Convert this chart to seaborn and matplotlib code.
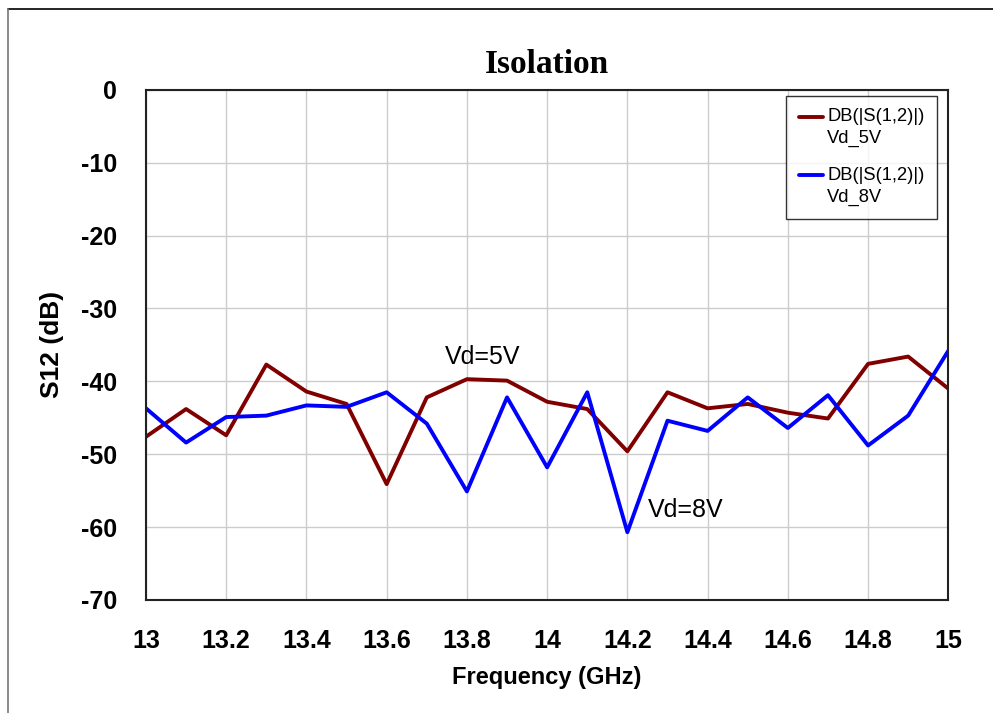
import matplotlib as mpl
import matplotlib.pyplot as plt
import numpy as np
import pandas as pd
import seaborn as sns
from matplotlib.legend_handler import HandlerLine2D
from matplotlib.lines import Line2D

# Data
freq_ghz = [13.0, 13.1, 13.2, 13.3, 13.4, 13.5, 13.6, 13.7, 13.8, 13.9, 14.0,
            14.1, 14.2, 14.3, 14.4, 14.5, 14.6, 14.7, 14.8, 14.9, 15.0]
s12_vd5 = [-47.6, -43.8, -47.4, -37.7, -41.4, -43.1, -54.1, -42.2, -39.7, -39.9, -42.8,
           -43.8, -49.6, -41.5, -43.7, -43.1, -44.3, -45.1, -37.6, -36.6, -41.0]
s12_vd8 = [-43.7, -48.4, -44.9, -44.7, -43.3, -43.5, -41.5, -45.8, -55.1, -42.2, -51.8,
           -41.5, -60.7, -45.4, -46.8, -42.2, -46.4, -41.9, -48.8, -44.7, -35.8]
series_labels = ["DB(|S(1,2)|)\nVd_5V", "DB(|S(1,2)|)\nVd_8V"]
x_ticks = [13.0, 13.2, 13.4, 13.6, 13.8, 14.0, 14.2, 14.4, 14.6, 14.8, 15.0]
x_tick_labels = ["13", "13.2", "13.4", "13.6", "13.8", "14", "14.2", "14.4", "14.6", "14.8", "15"]
y_ticks = [0, -10, -20, -30, -40, -50, -60, -70]


class TopLineHandler(HandlerLine2D):
    """Legend line placed next to the first text line instead of centred."""

    def create_artists(self, legend, orig_handle, xdescent, ydescent, width, height,
                       fontsize, trans):
        artists = super().create_artists(legend, orig_handle, xdescent, ydescent,
                                         width, height, fontsize, trans)
        for a in artists:
            a.set_ydata(np.asarray(a.get_ydata()) + 0.62 * fontsize)
        return artists


sns.set_theme(style="white")
plt.rcParams["font.family"] = ["Liberation Sans", "DejaVu Sans"]
plt.rcParams["axes.unicode_minus"] = False
plt.rcParams["text.color"] = "black"

df = pd.DataFrame({
    "freq": freq_ghz * 2,
    "s12": s12_vd5 + s12_vd8,
    "trace": [series_labels[0]] * len(freq_ghz) + [series_labels[1]] * len(freq_ghz),
})

fig = plt.figure(figsize=(9.93, 7.13), dpi=100)
ax = fig.add_axes([0.147, 0.1585, 0.808, 0.7155])

sns.lineplot(data=df, x="freq", y="s12", hue="trace",
             palette=["#800000", "#0000ff"], linewidth=2.8, ax=ax)

ax.set_xlim(13, 15)
ax.set_ylim(-70, 0)
ax.set_xticks(x_ticks)
ax.set_xticklabels(x_tick_labels)
ax.set_yticks(y_ticks)
ax.grid(True, color="#cccccc", linewidth=1.0)
ax.tick_params(axis="both", length=0, labelsize=18, colors="black")
ax.tick_params(axis="x", pad=21)
ax.tick_params(axis="y", pad=21)
for lab in ax.get_xticklabels() + ax.get_yticklabels():
    lab.set_fontweight("bold")
for sp in ax.spines.values():
    sp.set_color("#222222")
    sp.set_linewidth(1.5)

ax.set_xlabel("Frequency (GHz)", fontsize=17, fontweight="bold", labelpad=9, color="black")
ax.set_ylabel("S12 (dB)", fontsize=19, fontweight="bold", labelpad=12, color="black")
ax.set_title("Isolation", fontsize=24, fontweight="bold", color="black",
             family=["Liberation Serif", "DejaVu Serif"], pad=12)

ax.text(13.84, -36.6, "Vd=5V", fontsize=18, ha="center", va="center", color="black")
ax.text(14.345, -57.6, "Vd=8V", fontsize=18, ha="center", va="center", color="black")

handles, labels = ax.get_legend_handles_labels()
leg = ax.legend(handles, labels, loc="upper right", bbox_to_anchor=(0.986, 0.988),
                fontsize=13.2, frameon=True, fancybox=False, handlelength=1.3,
                handletextpad=0.25, labelspacing=1.1, borderpad=0.68, borderaxespad=0,
                handler_map={Line2D: TopLineHandler()})
leg.get_frame().set_edgecolor("black")
leg.get_frame().set_linewidth(1.0)
for t in leg.get_texts():
    t.set_linespacing(1.35)
    t.set_color("black")

# outer frame of the original screenshot
fig.add_artist(Line2D([8 / 993, 1], [1 - 9 / 713, 1 - 9 / 713], color="black", linewidth=1.2,
                      transform=fig.transFigure))
fig.add_artist(Line2D([8 / 993, 8 / 993], [0, 1 - 9 / 713], color="#777777", linewidth=1.2,
                      transform=fig.transFigure))

fig.savefig("out.png", dpi=100, facecolor="white")
